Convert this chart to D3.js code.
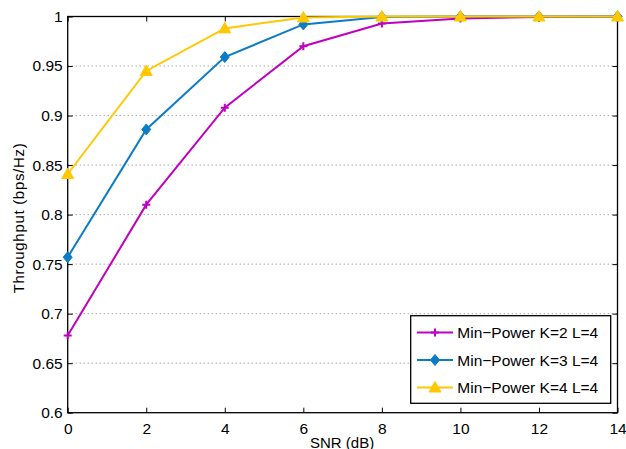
<!DOCTYPE html>
<html><head><meta charset="utf-8">
<script src="https://cdn.jsdelivr.net/npm/d3@7"></script>
<style>body{margin:0;background:#fff}svg{display:block}text{font-family:"Liberation Sans",Arial,sans-serif}</style>
</head><body><svg id="c" width="626" height="449"></svg>
<script>
const snr = [0, 2, 4, 6, 8, 10, 12, 14];
const k2 = [0.678, 0.810, 0.908, 0.970, 0.993, 0.998, 0.9995, 1.0];
const k3 = [0.757, 0.886, 0.959, 0.992, 0.9995, 1.0, 1.0, 1.0];
const k4 = [0.841, 0.945, 0.988, 0.999, 1.0, 1.0, 1.0, 1.0];
const seriesNames = ["Min\u2212Power K=2 L=4", "Min\u2212Power K=3 L=4", "Min\u2212Power K=4 L=4"];
const xTicks = [0, 2, 4, 6, 8, 10, 12, 14];
const yTicks = [0.6, 0.65, 0.7, 0.75, 0.8, 0.85, 0.9, 0.95, 1];

const colors = ["#C000C0", "#0C7CC4", "#FFC800"];
const markers = ["plus", "diamond", "triangle"];
const series = [k2, k3, k4];
const FS = 15.5;

const L = 67.7, R = 617.5, T = 16.5, B = 412.7;
const svg = d3.select("#c");
const x = d3.scaleLinear().domain([0, 14]).range([L, R]);
const y = d3.scaleLinear().domain([0.6, 1]).range([B, T]);

// grid
svg.append("g").selectAll("line").data(yTicks.slice(1, -1)).join("line")
  .attr("x1", L).attr("x2", R).attr("y1", d => y(d)).attr("y2", d => y(d))
  .attr("stroke", "#808080").attr("stroke-width", 1).attr("stroke-dasharray", "1,3");

// axes
const fmtY = d => String(+d.toFixed(2));
const ax = svg.append("g").attr("transform", `translate(0,${B})`)
  .call(d3.axisBottom(x).tickValues(xTicks).tickSize(-5).tickPadding(10).tickFormat(d3.format("d")));
const axT = svg.append("g").attr("transform", `translate(0,${T})`)
  .call(d3.axisTop(x).tickValues(xTicks).tickSize(-5).tickFormat(""));
const ay = svg.append("g").attr("transform", `translate(${L},0)`)
  .call(d3.axisLeft(y).tickValues(yTicks).tickSize(-5).tickPadding(5).tickFormat(fmtY));
const ayR = svg.append("g").attr("transform", `translate(${R},0)`)
  .call(d3.axisRight(y).tickValues(yTicks).tickSize(-5).tickFormat(""));
[ax, axT, ay, ayR].forEach(g => {
  g.select(".domain").remove();
  g.selectAll("line").attr("stroke", "#000");
  g.selectAll("text").attr("font-size", FS).attr("fill", "#000");
});
svg.append("rect").attr("x", L).attr("y", T).attr("width", R - L).attr("height", B - T)
  .attr("fill", "none").attr("stroke", "#000").attr("stroke-width", 1.3);

// labels
svg.append("text").attr("x", (L + R) / 2 - 0.5).attr("y", 447.5).attr("text-anchor", "middle")
  .attr("font-size", 15).text("SNR (dB)");
svg.append("text").attr("transform", `translate(24,${218.3}) rotate(-90)`)
  .attr("text-anchor", "middle").attr("font-size", 15)
  .attr("textLength", 150).attr("lengthAdjust", "spacing").text("Throughput (bps/Hz)");

function drawMarker(g, type, cx, cy, color) {
  if (type === "plus") {
    g.append("path").attr("d", `M${cx - 4},${cy}H${cx + 4}M${cx},${cy - 4}V${cy + 4}`)
      .attr("stroke", color).attr("stroke-width", 2).attr("fill", "none");
  } else if (type === "diamond") {
    g.append("path").attr("d", `M${cx},${cy - 5.5}L${cx + 4.5},${cy}L${cx},${cy + 5.5}L${cx - 4.5},${cy}Z`)
      .attr("fill", color).attr("stroke", color);
  } else {
    g.append("path").attr("d", `M${cx},${cy - 6}L${cx + 6},${cy + 4.5}L${cx - 6},${cy + 4.5}Z`)
      .attr("fill", color).attr("stroke", color);
  }
}

const line = d3.line().x((d, i) => x(snr[i])).y(d => y(d));
series.forEach((s, k) => {
  const g = svg.append("g");
  g.append("path").datum(s).attr("d", line).attr("fill", "none")
    .attr("stroke", colors[k]).attr("stroke-width", 2);
  s.forEach((v, i) => drawMarker(g, markers[k], x(snr[i]), y(v), colors[k]));
});

// legend
const lg = svg.append("g");
lg.append("rect").attr("x", 410.7).attr("y", 315.7).attr("width", 200).attr("height", 87.6)
  .attr("fill", "#fff").attr("stroke", "#000").attr("stroke-width", 1.3);
seriesNames.forEach((n, k) => {
  const yy = 332.5 + k * 27.5;
  lg.append("line").attr("x1", 417).attr("x2", 453).attr("y1", yy).attr("y2", yy)
    .attr("stroke", colors[k]).attr("stroke-width", 2);
  drawMarker(lg, markers[k], 435, yy, colors[k]);
  lg.append("text").attr("x", 457.3).attr("y", yy + 5.5).attr("font-size", FS).text(n);
});
</script></body></html>
